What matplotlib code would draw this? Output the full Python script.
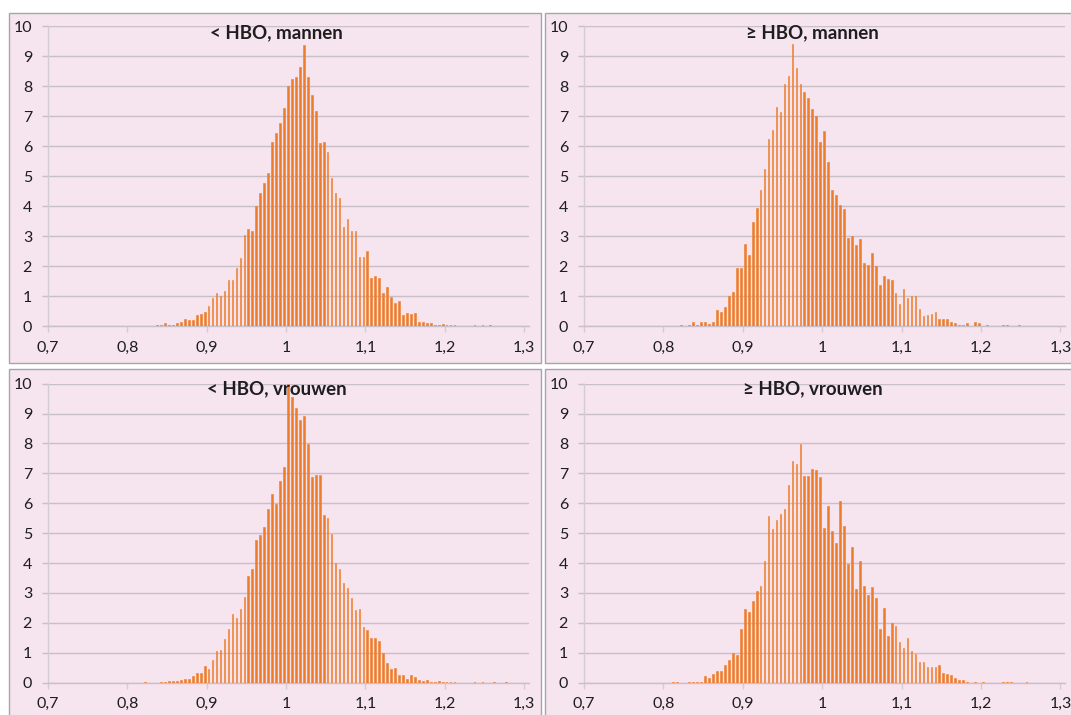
import numpy as np
import matplotlib
matplotlib.use("Agg")
import matplotlib.pyplot as plt
from matplotlib.patches import Rectangle

# ---------------- data ----------------
bin_width = 0.005
titles = ["< HBO, mannen", "≥ HBO, mannen", "< HBO, vrouwen", "≥ HBO, vrouwen"]
first_bin_center = [0.8375, 0.8225, 0.8225, 0.8125]

lt_hbo_mannen = [
    0.05, 0.02, 0.1, 0.05, 0.05, 0.1, 0.12, 0.23, 0.2, 0.2, 0.37, 0.41, 0.46,
    0.67, 0.92, 1.1, 1.0, 1.18, 1.53, 1.53, 1.92, 2.26, 3.03, 3.22, 3.16, 4.0,
    4.44, 4.76, 5.09, 6.12, 6.44, 6.76, 7.28, 8.01, 8.22, 8.31, 8.64, 9.37,
    8.31, 7.69, 7.17, 6.11, 6.14, 5.79, 4.92, 4.44, 4.28, 3.31, 3.57, 3.18,
    3.18, 2.29, 2.3, 2.5, 1.6, 1.67, 1.6, 1.11, 1.3, 0.96, 0.78, 0.82,
    0.37, 0.45, 0.4, 0.42, 0.15, 0.12, 0.1, 0.1, 0.05, 0.05, 0.07, 0.04, 0.04,
    0.04, 0.01, 0, 0.01, 0.01, 0.02, 0.01, 0.02, 0, 0.02,
]
ge_hbo_mannen = [
    0.02, 0.01, 0.02, 0.12, 0.03, 0.12, 0.12, 0.08, 0.13, 0.53, 0.47, 0.62,
    1.0, 1.12, 1.93, 1.93, 2.75, 2.38, 3.48, 3.95, 4.55, 5.25, 6.23, 6.55, 7.3,
    7.15, 8.05, 8.35, 9.4,
    8.6, 8.05, 7.8, 7.6, 7.25, 7.0, 6.15, 6.5, 5.47, 4.55, 4.38, 4.05, 3.9,
    2.95, 3.0, 2.7, 2.9, 2.1, 2.05, 2.43, 2.0, 1.37, 1.68, 1.58, 1.52, 1.1,
    0.72, 1.22, 0.93, 1.0, 1.0, 0.57, 0.33, 0.38, 0.4, 0.47, 0.25, 0.22, 0.25,
    0.12, 0.1, 0.05, 0.03, 0.1, 0, 0.12, 0.1, 0, 0.03, 0, 0, 0, 0.02, 0.02, 0,
    0, 0.02,
]
lt_hbo_vrouwen = [
    0.02, 0, 0, 0, 0.01, 0.04, 0.05, 0.05, 0.06, 0.1, 0.12, 0.13, 0.22, 0.31,
    0.31, 0.55, 0.46, 0.76, 1.05, 1.1, 1.45, 1.8, 2.3, 2.16, 2.46, 2.86, 3.58,
    3.8, 4.77, 4.94, 5.22, 5.8, 6.3, 5.97, 6.73, 7.2, 9.98,
    9.56, 9.2, 8.78, 8.92, 7.98, 6.89, 6.93, 6.95, 5.6, 5.52, 4.97, 4.01, 3.8,
    3.33, 3.17, 2.83, 2.42, 2.46, 1.85, 1.77, 1.5, 1.5, 1.4,
    0.98, 0.67, 0.45, 0.5, 0.27, 0.27, 0.12, 0.25, 0.2, 0.08, 0.05, 0.09, 0.02,
    0.03, 0.05, 0.02, 0.01, 0.01, 0.02, 0, 0, 0, 0, 0.03, 0, 0.01, 0, 0, 0.01,
    0, 0, 0.01,
]
ge_hbo_vrouwen = [
    0.02, 0.02, 0, 0, 0.01, 0.02, 0.02, 0.03, 0.24, 0.17, 0.3, 0.39, 0.39, 0.6,
    0.75, 0.98, 0.92, 1.8, 2.45, 2.35, 2.73, 3.06, 3.25, 4.07, 5.58, 5.13, 5.45,
    5.65, 5.8, 6.62, 7.42, 7.32, 7.98,
    6.9, 6.9, 7.16, 7.11, 6.87, 5.18, 5.91, 5.08, 4.67, 6.07, 5.25, 3.97, 4.55,
    3.13, 4.07, 3.24, 2.92, 3.2, 2.83, 1.79, 2.5, 1.55, 1.99, 1.88, 1.35, 1.15,
    1.5, 1.05, 0.97, 0.68, 0.68, 0.52, 0.52, 0.52, 0.6, 0.32, 0.28, 0.25, 0.15,
    0.08, 0.1, 0.03, 0, 0.03, 0, 0.01, 0, 0, 0, 0, 0.01, 0.01, 0.01, 0, 0, 0,
    0.02,
]
series = [lt_hbo_mannen, ge_hbo_mannen, lt_hbo_vrouwen, ge_hbo_vrouwen]

x_ticks = [0.7, 0.8, 0.9, 1.0, 1.1, 1.2, 1.3]
x_tick_labels = ["0,7", "0,8", "0,9", "1", "1,1", "1,2", "1,3"]
y_ticks = list(range(0, 11))

# ---------------- style ----------------
W, H = 1071, 715
BG = "#F6E4EF"
BAR = "#EE7D2B"
GRID = "#C9BFC9"
BORDER = "#A6A6A6"
TXT = "#1E1E1E"
FONT = ["Lato", "DejaVu Sans"]

fig = plt.figure(figsize=(W / 100, H / 100), dpi=100)
fig.patch.set_facecolor("white")

# chart-area boxes (pixel coords: x0, y_top, x1, y_bottom)
chart_areas = [(8.6, 12.7, 541, 363), (545, 12.7, 1075, 363),
               (8.6, 368.7, 541, 720), (545, 368.7, 1075, 720)]
# plot areas (x0, y_top, x1, y_bottom) in px
plot_areas = [(48, 26, 528.6, 326), (584, 26, 1065, 326),
              (48, 383.7, 528.6, 682.7), (584, 383.7, 1065, 682.7)]
title_pos = [(276, 32.5), (812.6, 32.5), (277, 389), (813, 389)]

for (x0, yt, x1, yb) in chart_areas:
    fig.patches.append(Rectangle((x0 / W, 1 - yb / H), (x1 - x0) / W, (yb - yt) / H,
                                 transform=fig.transFigure, facecolor=BG,
                                 edgecolor=BORDER, linewidth=1.0, zorder=-5))

for i in range(4):
    x0, yt, x1, yb = plot_areas[i]
    ax = fig.add_axes([x0 / W, 1 - yb / H, (x1 - x0) / W, (yb - yt) / H])
    ax.set_zorder(1)
    ax.set_facecolor("none")
    vals = np.array(series[i], dtype=float)
    centers = first_bin_center[i] + bin_width * np.arange(len(vals))
    ax.bar(centers, vals, width=bin_width * 0.42, color=BAR,
           edgecolor=BAR, linewidth=0.4, zorder=3)
    ax.set_xlim(0.7, 1.3058)
    ax.set_ylim(0, 10)
    ax.set_yticks(y_ticks)
    ax.set_yticklabels([str(v) for v in y_ticks])
    ax.set_xticks(x_ticks)
    ax.set_xticklabels(x_tick_labels)
    ax.grid(axis="y", color=GRID, linewidth=1.0, zorder=1)
    ax.set_axisbelow(True)
    for s in ["top", "right"]:
        ax.spines[s].set_visible(False)
    ax.spines["left"].set_color("#D4CBD3")
    ax.spines["left"].set_linewidth(1.0)
    ax.spines["bottom"].set_color(GRID)
    ax.spines["bottom"].set_linewidth(1.0)
    ax.tick_params(axis="y", length=4.5, width=1.0, color=GRID, pad=7,
                   labelsize=11.5, labelcolor=TXT)
    ax.tick_params(axis="x", length=4, width=1.0, color="#D4CBD3", pad=6.5,
                   labelsize=11.5, labelcolor=TXT)
    for lab in ax.get_xticklabels() + ax.get_yticklabels():
        lab.set_fontfamily(FONT)
    tx, ty = title_pos[i]
    fig.text(tx / W, 1 - ty / H, titles[i], ha="center", va="center",
             fontsize=13.5, fontweight="bold", color=TXT, family=FONT, zorder=5)

fig.savefig("out.png", dpi=100, facecolor="white")
